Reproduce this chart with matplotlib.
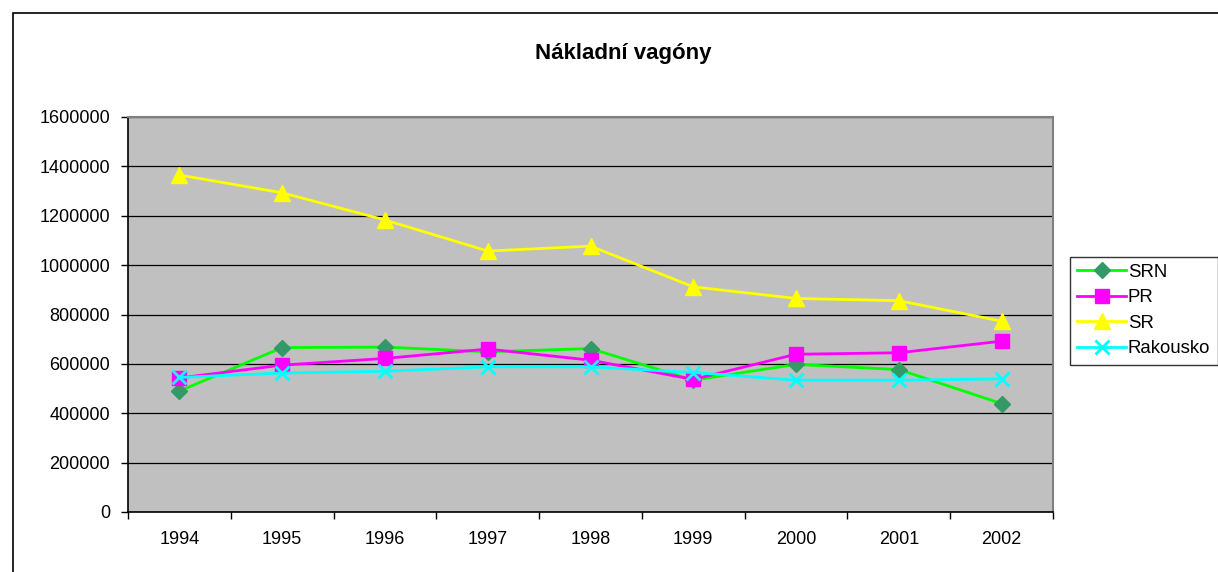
import numpy as np
import matplotlib
matplotlib.use("Agg")
import matplotlib.pyplot as plt
from matplotlib.patches import Rectangle
from matplotlib.ticker import FixedLocator

# --- DATA ---
years = ["1994", "1995", "1996", "1997", "1998", "1999", "2000", "2001", "2002"]
srn = [490000, 666000, 668000, 649000, 662000, 534000, 598000, 577000, 439000]
pr = [543000, 595000, 622000, 660000, 615000, 537000, 639000, 645000, 692000]
sr = [1365000, 1293000, 1183000, 1057000, 1077000, 912000, 865000, 856000, 773000]
rakousko = [545000, 563000, 570000, 588000, 588000, 565000, 534000, 534000, 539000]
y_ticks = [0, 200000, 400000, 600000, 800000, 1000000, 1200000, 1400000, 1600000]

plt.rcParams['font.family'] = ['Liberation Sans', 'DejaVu Sans']

W, H = 1218, 572
fig = plt.figure(figsize=(W / 100, H / 100), dpi=100)
fig.patch.set_facecolor('white')

# outer chart border
fig.patches.append(Rectangle((13 / W, -0.1), 1.2, 1 - 13 / H + 0.1, transform=fig.transFigure,
                             fill=False, edgecolor='black', lw=1.2, clip_on=False))

ax = fig.add_axes([128 / W, (H - 512) / H, (1053 - 128) / W, (512 - 117) / H])
ax.set_facecolor('#C0C0C0')

x = np.arange(len(years))
ax.plot(x, srn, color='#00FF00', lw=2.0, marker='D', ms=8, mfc='#339966', mec='#339966', label='SRN', zorder=3)
ax.plot(x, pr, color='#FF00FF', lw=2.0, marker='s', ms=10, mfc='#FF00FF', mec='#FF00FF', label='PR', zorder=3)
ax.plot(x, sr, color='#FFFF00', lw=2.0, marker='^', ms=11, mfc='#FFFF00', mec='#FFFF00', label='SR', zorder=3)
ax.plot(x, rakousko, color='#00FFFF', lw=2.0, marker='x', ms=10, mew=2, mfc='#00FFFF', mec='#00FFFF',
        label='Rakousko', zorder=3)

ax.set_xlim(-0.5, len(years) - 0.5)
ax.set_ylim(0, 1600000)
ax.set_yticks(y_ticks)
ax.set_yticklabels([str(v) for v in y_ticks])
ax.yaxis.grid(True, color='black', lw=0.9)
ax.set_axisbelow(True)

ax.set_xticks(x)
ax.set_xticklabels(years)
ax.xaxis.set_minor_locator(FixedLocator(np.arange(-0.5, len(years), 1.0)))
ax.tick_params(axis='x', which='major', length=0, pad=14, labelsize=13)
ax.tick_params(axis='x', which='minor', length=5, width=1, direction='out')
ax.tick_params(axis='y', length=5, width=1, direction='out', pad=8, labelsize=13)

for s in ['left', 'bottom']:
    ax.spines[s].set_color('black')
    ax.spines[s].set_linewidth(1.2)
for s in ['top', 'right']:
    ax.spines[s].set_color('#808080')
    ax.spines[s].set_linewidth(1.5)

fig.text(623 / W, 1 - 59.5 / H, "Nákladní vagóny", ha='center', va='baseline',
         fontsize=16, fontweight='bold')

leg = fig.legend(loc='upper left', bbox_to_anchor=(1070 / W, 1 - 256.5 / H), frameon=True,
                 fontsize=13.4, handlelength=2.6, handletextpad=0.1, borderpad=0.4,
                 labelspacing=0.45, borderaxespad=0, fancybox=False)
leg.get_frame().set_edgecolor('black')
leg.get_frame().set_linewidth(1.0)

fig.savefig('out.png', dpi=100)
